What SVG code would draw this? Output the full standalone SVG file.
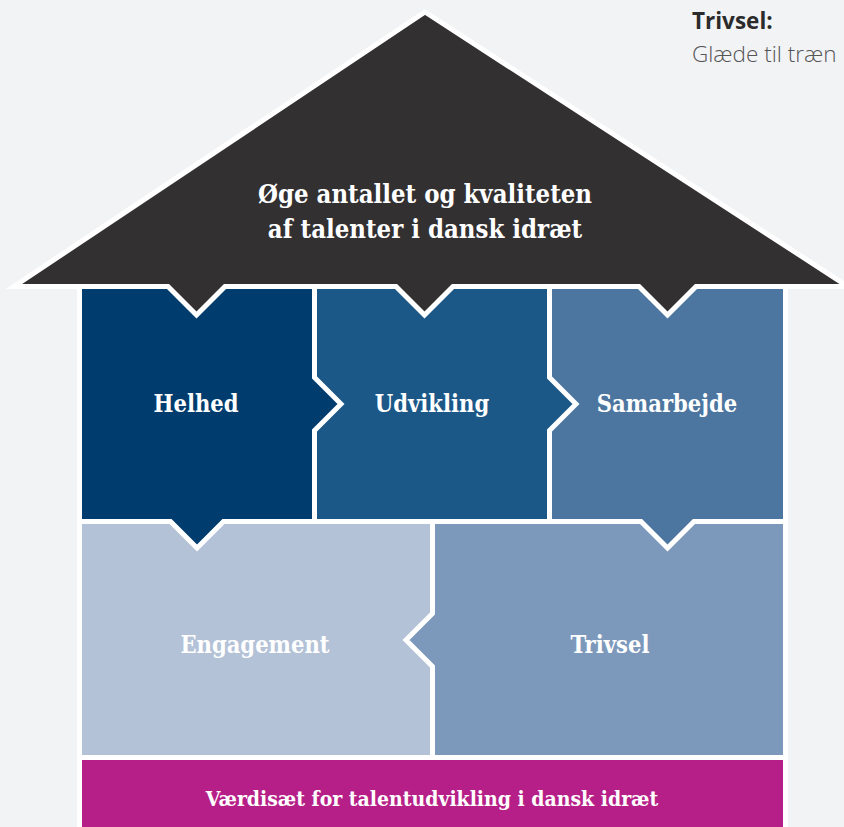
<svg xmlns="http://www.w3.org/2000/svg" width="844" height="827" viewBox="0 0 844 827">
<style>
.blk{stroke:#ffffff;stroke-width:5;stroke-linejoin:miter}
.lbl{font-family:"DejaVu Serif Condensed","DejaVu Serif",serif;font-stretch:condensed;font-weight:bold;fill:#ffffff;text-anchor:middle}
.side{font-family:"Open Sans","Noto Sans",sans-serif;font-size:22.5px}
</style>
<rect x="0" y="0" width="844" height="827" fill="#f2f3f5"/>
<g id="legend">
<text class="side" x="692" y="29" font-weight="bold" fill="#2b2b2b">Trivsel:</text>
<text class="side" x="692" y="62" font-weight="300" fill="#555555">Glæde til træn</text>
</g>
<g id="base">
<rect class="blk" x="79.5" y="757.5" width="706" height="80" fill="#b61f87"/>
<text class="lbl" x="432" y="806" font-size="21">Værdisæt for talentudvikling i dansk idræt</text>
</g>
<g id="engagement">
<rect class="blk" x="79.5" y="521.5" width="353" height="236" fill="#b3c2d7"/>
<text class="lbl" x="255" y="653" font-size="23.5" fill="#f4f6fa">Engagement</text>
</g>
<g id="trivsel">
<polygon class="blk" points="432.5,521.5 785.5,521.5 785.5,757.5 432.5,757.5 432.5,666.5 406,640 432.5,613.5" fill="#7c98bb"/>
<text class="lbl" x="610" y="653" font-size="23.5">Trivsel</text>
</g>
<g id="samarbejde">
<polygon class="blk" points="549.5,286.5 785.5,286.5 785.5,521.5 694,521.5 667.5,548 641,521.5 549.5,521.5" fill="#4c769f"/>
<text class="lbl" x="667" y="412" font-size="23.5">Samarbejde</text>
</g>
<g id="udvikling">
<polygon class="blk" points="314.5,286.5 549.5,286.5 549.5,377.5 576,404 549.5,430.5 549.5,521.5 314.5,521.5" fill="#1b5888"/>
<text class="lbl" x="432" y="412" font-size="23.5">Udvikling</text>
</g>
<g id="helhed">
<polygon class="blk" points="79.5,286.5 314.5,286.5 314.5,377.5 341,404 314.5,430.5 314.5,521.5 223.5,521.5 197,548 170.5,521.5 79.5,521.5" fill="#003d6e"/>
<text class="lbl" x="196" y="412" font-size="23.5">Helhed</text>
</g>
<g id="roof">
<polygon class="blk" points="425,12 848,286.5 696,286.5 667.5,315 639,286.5 453,286.5 424.5,315 396,286.5 225,286.5 196.5,315 168,286.5 14,286.5" fill="#323031"/>
<text class="lbl" x="425" y="203" font-size="25.5">Øge antallet og kvaliteten</text>
<text class="lbl" x="425" y="238" font-size="25.5">af talenter i dansk idræt</text>
</g>
<g id="connectors"></g>
</svg>
